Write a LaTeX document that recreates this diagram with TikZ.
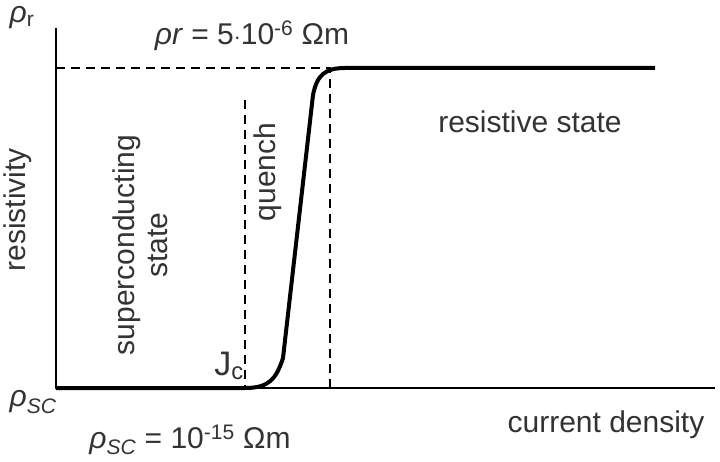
\documentclass[tikz,border=0pt]{standalone}
\usepackage{fontspec}
\setmainfont{Liberation Sans}
\begin{document}
\begin{tikzpicture}[x=1pt,y=-1pt,
  lbl/.style={font=\fontsize{30}{33}\selectfont, text=black!80},
  axis/.style={line width=2.5pt},
  dsh/.style={line width=1.4pt, dash pattern=on 9pt off 6pt},
  curve/.style={line width=4pt}]
\useasboundingbox (0,0) rectangle (720,462);
\coordinate (top) at (56,28);
\coordinate (o) at (56,388);
\coordinate (xe) at (715,388);
\draw[axis] (top) -- (o) -- (xe);
\coordinate (r1) at (56,68);
\coordinate (r2) at (330,68);
\coordinate (jc) at (245,100);
\coordinate (jcb) at (245,388);
\coordinate (r2b) at (330,388);
\draw[dsh] (r1) -- (r2) -- (r2b);
\draw[dsh] (jc) -- (jcb);
\coordinate (c0) at (56,388);
\coordinate (c1) at (245,388);
\coordinate (c2) at (283,358);
\coordinate (c3) at (313,95);
\coordinate (c4) at (345,68);
\coordinate (c5) at (655,68);
\draw[curve] (c0) -- (c1) .. controls (268,388) and (276,380) .. (c2)
  -- (c3) .. controls (317,75) and (325,68) .. (c4) -- (c5);
\node[lbl] (rr) at (22,18) {\textit{ρ}\textsubscript{r}};
\node[lbl] (rreq) at (252,36) {\textit{ρr} = 5$\cdot$10\textsuperscript{-6} Ωm};
\node[lbl, rotate=90] (res) at (18,210) {resistivity};
\node[lbl, rotate=90, align=center] (sc) at (140,245) {superconducting\\state};
\node[lbl, rotate=90] (q) at (268,172) {quench};
\node[lbl] (rs) at (530,122) {resistive state};
\node[lbl, font=\fontsize{34}{36}\selectfont] (jcl) at (229,366) {J\textsubscript{c}};
\node[lbl] (rsc) at (33,402) {\textit{ρ\textsubscript{SC}}};
\node[lbl] (rsceq) at (190,440) {\textit{ρ\textsubscript{SC}} = 10\textsuperscript{-15} Ωm};
\node[lbl] (cd) at (606,425) {current density};
\end{tikzpicture}
\end{document}
